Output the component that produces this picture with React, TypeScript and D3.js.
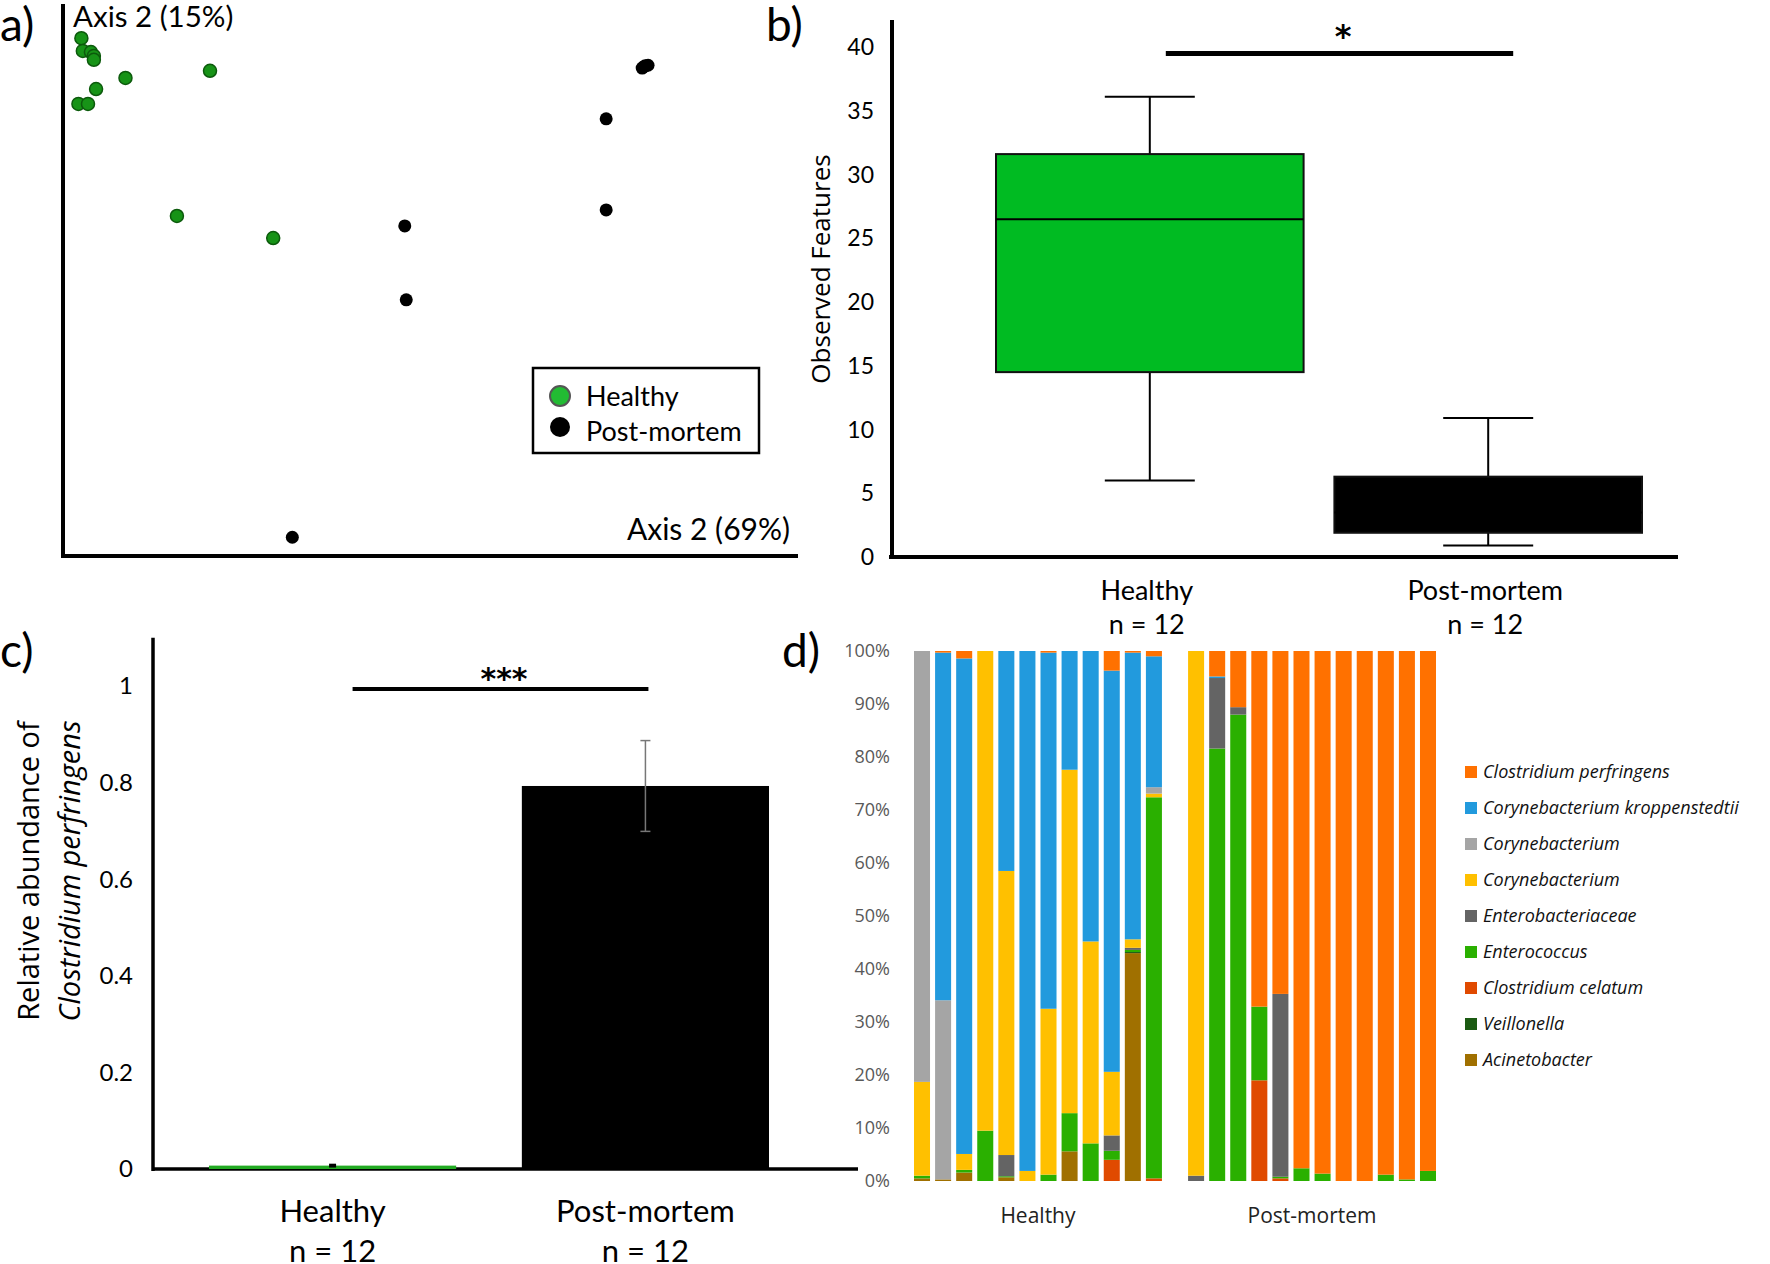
import React from 'react';
import * as d3 from 'd3';

// a) PCoA coordinates (axis units 0-100 along the drawn axes)
const healthyAxis1 = [2.5, 2.7, 3.8, 4.2, 4.2, 8.5, 20.0, 4.5, 2.1, 3.4, 15.5, 28.6];
const healthyAxis2 = [93.8, 91.5, 91.3, 90.6, 89.9, 86.6, 87.9, 84.6, 81.9, 81.9, 61.6, 57.6];
const postAxis1 = [78.8, 79.6, 79.2, 79.0, 73.9, 73.9, 46.5, 46.7, 31.2];
const postAxis2 = [88.4, 88.9, 88.8, 88.6, 79.2, 62.7, 59.8, 46.4, 3.4];

// b) observed features
const groups = ['Healthy', 'Post-mortem'];
const boxMin = [6, 0.9];
const boxQ1 = [14.5, 1.9];
const boxMedian = [26.5, 3.5];
const boxQ3 = [31.6, 6.3];
const boxMax = [36.1, 10.9];
const featureTicks = [0, 5, 10, 15, 20, 25, 30, 35, 40];

// c) relative abundance of C. perfringens
const abundanceMean = [0.007, 0.793];
const abundanceErr = [0.004, 0.094];
const abundanceTicks = [0, 0.2, 0.4, 0.6, 0.8, 1];

// d) taxa per sample (12 healthy, 12 post-mortem), bottom of stack first
const taxa = ['acin', 'veill', 'celatum', 'entc', 'entb', 'coryY', 'coryG', 'kropp', 'perf'];
const taxonNames = {
  perf: 'Clostridium perfringens',
  kropp: 'Corynebacterium kroppenstedtii',
  coryG: 'Corynebacterium',
  coryY: 'Corynebacterium',
  entb: 'Enterobacteriaceae',
  entc: 'Enterococcus',
  celatum: 'Clostridium celatum',
  veill: 'Veillonella',
  acin: 'Acinetobacter',
};
const legendOrder = ['perf', 'kropp', 'coryG', 'coryY', 'entb', 'entc', 'celatum', 'veill', 'acin'];
const taxonColors = {
  perf: '#ff7100',
  kropp: '#229add',
  coryG: '#a5a5a5',
  coryY: '#ffc000',
  entb: '#646464',
  entc: '#2ab000',
  celatum: '#e04a00',
  veill: '#1b5a12',
  acin: '#a07000',
};
const perf = [0, 0.3, 1.4, 0, 0, 0, 0.3, 0, 0, 3.7, 0.3, 1.0, 0, 4.8, 10.6, 67.1, 64.7, 97.6, 98.6, 100, 100, 98.8, 99.7, 98.1];
const kropp = [0, 65.6, 93.5, 0, 41.5, 98.1, 67.2, 22.4, 54.8, 75.7, 54.1, 24.7, 0, 0.3, 0, 0, 0, 0, 0, 0, 0, 0, 0, 0];
const coryG = [81.3, 33.8, 0, 0, 0, 0, 0, 0, 0, 0, 0, 1.2, 0, 0, 0, 0, 0, 0, 0, 0, 0, 0, 0, 0];
const coryY = [17.7, 0, 3.0, 90.5, 53.6, 1.9, 31.3, 64.8, 38.1, 12.0, 1.6, 0.7, 99.0, 0, 0, 0, 0, 0, 0, 0, 0, 0, 0, 0];
const entb = [0, 0, 0, 0, 4.0, 0, 0, 0, 0, 2.9, 0.4, 0, 1.0, 13.3, 1.4, 0, 34.5, 0, 0, 0, 0, 0, 0, 0];
const entc = [0.5, 0, 0.5, 9.5, 0.2, 0, 1.2, 7.2, 7.1, 1.7, 0.4, 71.9, 0, 81.6, 88.0, 13.9, 0.3, 2.4, 1.4, 0, 0, 1.2, 0.3, 1.9];
const celatum = [0, 0, 0, 0, 0, 0, 0, 0, 0, 4.0, 0, 0.5, 0, 0, 0, 19.0, 0.5, 0, 0, 0, 0, 0, 0, 0];
const veill = [0, 0, 0, 0, 0, 0, 0, 0, 0, 0, 0.2, 0, 0, 0, 0, 0, 0, 0, 0, 0, 0, 0, 0, 0];
const acin = [0.5, 0.3, 1.6, 0, 0.7, 0, 0, 5.6, 0, 0, 43.0, 0, 0, 0, 0, 0, 0, 0, 0, 0, 0, 0, 0, 0];
const samples = [
  'H1', 'H2', 'H3', 'H4', 'H5', 'H6', 'H7', 'H8', 'H9', 'H10', 'H11', 'H12',
  'P1', 'P2', 'P3', 'P4', 'P5', 'P6', 'P7', 'P8', 'P9', 'P10', 'P11', 'P12',
];
const percentTicks = [0, 0.1, 0.2, 0.3, 0.4, 0.5, 0.6, 0.7, 0.8, 0.9, 1];

const LATO = 'Lato, sans-serif';
const OPEN = '"Open Sans", sans-serif';
const DEJA = '"DejaVu Sans", sans-serif';

export default function App() {
  // ---- a)
  const xA = d3.scaleLinear().domain([0, 100]).range([63, 798]);
  const yA = d3.scaleLinear().domain([0, 100]).range([556, 4]);

  // ---- b)
  const xB = d3.scaleBand().domain(groups).range([996, 1642]).paddingInner(0.091);
  const yB = d3.scaleLinear().domain([0, 40]).range([557, 47]);
  const cB = (g) => xB(g) + xB.bandwidth() / 2;

  // ---- c)
  const xC = d3.scaleBand().domain(groups).range([209, 769]).paddingInner(0.21);
  const yC = d3.scaleLinear().domain([0, 1]).range([1169, 686]);
  const cC = (g) => xC(g) + xC.bandwidth() / 2;

  // ---- d)
  const slots = [...samples.slice(0, 12), 'gap', ...samples.slice(12)];
  const xD = d3.scaleBand().domain(slots).range([914, 1436]).paddingInner(0.24);
  const yD = d3.scaleLinear().domain([0, 1]).range([1181, 651]);
  const series = { perf, kropp, coryG, coryY, entb, entc, celatum, veill, acin };
  const rows = samples.map((s, i) => {
    const r = { sample: s };
    taxa.forEach((t) => (r[t] = series[t][i]));
    return r;
  });
  const stacked = d3.stack().keys(taxa).offset(d3.stackOffsetExpand)(rows);
  const groupCenter = (a, b) => (xD(a) + xD(b) + xD.bandwidth()) / 2;

  return (
    <svg width={1770} height={1264} style={{ position: 'absolute', left: 0, top: 0, background: '#fff' }}>
      {/* ================= a) ================= */}
      <text x={0} y={41} fontFamily={LATO} fontSize={46}>a)</text>
      <line x1={xA(0)} x2={xA(0)} y1={yA(100)} y2={yA(0) + 2} stroke="#000" strokeWidth={4} />
      <line x1={xA(0) - 2} x2={xA(100)} y1={yA(0)} y2={yA(0)} stroke="#000" strokeWidth={4} />
      <text x={73} y={27} fontFamily={LATO} fontSize={29.5}>Axis 2 (15%)</text>
      <text x={790} y={540} textAnchor="end" fontFamily={LATO} fontSize={30}>Axis 2 (69%)</text>
      {healthyAxis1.map((v, i) => (
        <circle key={'h' + i} cx={xA(v)} cy={yA(healthyAxis2[i])} r={6.5} fill="#179317" stroke="#0c5a0c" strokeWidth={1.5} />
      ))}
      {postAxis1.map((v, i) => (
        <circle key={'p' + i} cx={xA(v)} cy={yA(postAxis2[i])} r={6.5} fill="#000" />
      ))}
      <rect x={533} y={368} width={226} height={85} fill="#fff" stroke="#000" strokeWidth={2.5} />
      <circle cx={560} cy={396} r={10} fill="#22bb33" stroke="#555" strokeWidth={2} />
      <circle cx={560} cy={427} r={10} fill="#000" />
      <text x={586} y={406} fontFamily={LATO} fontSize={27}>Healthy</text>
      <text x={586} y={441} fontFamily={LATO} fontSize={27}>Post-mortem</text>

      {/* ================= b) ================= */}
      <text x={766} y={41} fontFamily={LATO} fontSize={46}>b)</text>
      <line x1={892} x2={892} y1={20} y2={yB(0) + 2} stroke="#000" strokeWidth={4} />
      <line x1={889} x2={1678} y1={yB(0)} y2={yB(0)} stroke="#000" strokeWidth={4} />
      {featureTicks.map((t) => (
        <text key={t} x={874} y={yB(t)} dy="0.35em" textAnchor="end" fontFamily={LATO} fontSize={23}>{t}</text>
      ))}
      <text transform="translate(830,269) rotate(-90)" textAnchor="middle" fontFamily={OPEN} fontSize={26}>Observed Features</text>
      {groups.map((g, i) => {
        const cx = cB(g);
        const fill = i === 0 ? '#00bb22' : '#000';
        return (
          <g key={g}>
            <line x1={cx} x2={cx} y1={yB(boxMax[i])} y2={yB(boxQ3[i])} stroke="#000" strokeWidth={2} />
            <line x1={cx} x2={cx} y1={yB(boxQ1[i])} y2={yB(boxMin[i])} stroke="#000" strokeWidth={2} />
            <line x1={cx - 45} x2={cx + 45} y1={yB(boxMax[i])} y2={yB(boxMax[i])} stroke="#000" strokeWidth={2} />
            <line x1={cx - 45} x2={cx + 45} y1={yB(boxMin[i])} y2={yB(boxMin[i])} stroke="#000" strokeWidth={2} />
            <rect x={xB(g)} y={yB(boxQ3[i])} width={xB.bandwidth()} height={yB(boxQ1[i]) - yB(boxQ3[i])} fill={fill} stroke="#111" strokeWidth={2} />
            <line x1={xB(g)} x2={xB(g) + xB.bandwidth()} y1={yB(boxMedian[i])} y2={yB(boxMedian[i])} stroke="#000" strokeWidth={2} />
            <text x={cx - 3} y={600} textAnchor="middle" fontFamily={LATO} fontSize={27}>{g}</text>
            <text x={cx - 3} y={634} textAnchor="middle" fontFamily={LATO} fontSize={27}>n = 12</text>
          </g>
        );
      })}
      <line x1={cB('Healthy') + 16} x2={cB('Post-mortem') + 25} y1={yB(39.5)} y2={yB(39.5)} stroke="#000" strokeWidth={5} />
      <text x={(cB('Healthy') + cB('Post-mortem')) / 2 + 24} y={47} textAnchor="middle" fontFamily={DEJA} fontWeight="bold" fontSize={32}>*</text>

      {/* ================= c) ================= */}
      <text x={0} y={667} fontFamily={LATO} fontSize={46}>c)</text>
      <line x1={153} x2={153} y1={yC(1.1)} y2={yC(0) + 2} stroke="#000" strokeWidth={3.5} />
      <line x1={152} x2={858} y1={yC(0)} y2={yC(0)} stroke="#000" strokeWidth={3.5} />
      {abundanceTicks.map((t) => (
        <text key={t} x={133} y={yC(t)} dy="0.35em" textAnchor="end" fontFamily={LATO} fontSize={24}>{t}</text>
      ))}
      <text transform="translate(39,871) rotate(-90)" textAnchor="middle" fontFamily={OPEN} fontSize={29}>Relative abundance of</text>
      <text transform="translate(80,871) rotate(-90)" textAnchor="middle" fontFamily={OPEN} fontStyle="italic" fontSize={29}>Clostridium perfringens</text>
      {groups.map((g, i) => {
        const cx = cC(g);
        const hi = yC(abundanceMean[i] + abundanceErr[i]);
        const lo = yC(abundanceMean[i] - abundanceErr[i]);
        return (
          <g key={g}>
            <rect x={xC(g)} y={yC(abundanceMean[i])} width={xC.bandwidth()} height={yC(0) - yC(abundanceMean[i])} fill={i === 0 ? '#22aa22' : '#000'} />
            <line x1={cx} x2={cx} y1={hi} y2={lo} stroke={i === 0 ? '#000' : '#777'} strokeWidth={i === 0 ? 7 : 1.5} />
            {i === 1 && (
              <g>
                <line x1={cx - 5} x2={cx + 5} y1={hi} y2={hi} stroke="#777" strokeWidth={1.5} />
                <line x1={cx - 5} x2={cx + 5} y1={lo} y2={lo} stroke="#777" strokeWidth={1.5} />
              </g>
            )}
            <text x={cx} y={1222} textAnchor="middle" fontFamily={LATO} fontSize={31}>{g}</text>
            <text x={cx} y={1262} textAnchor="middle" fontFamily={LATO} fontSize={31}>n = 12</text>
          </g>
        );
      })}
      <line x1={cC('Healthy') + 20} x2={cC('Post-mortem') + 3} y1={yC(0.994)} y2={yC(0.994)} stroke="#000" strokeWidth={4} />
      <text x={504} y={689} textAnchor="middle" fontFamily={DEJA} fontWeight="bold" fontSize={30}>***</text>

      {/* ================= d) ================= */}
      <text x={782} y={667} fontFamily={LATO} fontSize={46}>d)</text>
      {percentTicks.map((t) => (
        <text key={t} x={890} y={yD(t)} dy="0.35em" textAnchor="end" fontFamily={OPEN} fontSize={18} fill="#595959">
          {Math.round(t * 100) + '%'}
        </text>
      ))}
      {stacked.map((layer) => (
        <g key={layer.key} fill={taxonColors[layer.key]}>
          {layer.map((d, j) =>
            d[1] - d[0] > 0 ? (
              <rect key={j} x={xD(samples[j])} y={yD(d[1])} width={xD.bandwidth()} height={yD(d[0]) - yD(d[1])} />
            ) : null
          )}
        </g>
      ))}
      <text x={groupCenter('H1', 'H12')} y={1223} textAnchor="middle" fontFamily={OPEN} fontSize={21} fill="#222">Healthy</text>
      <text x={groupCenter('P1', 'P12')} y={1223} textAnchor="middle" fontFamily={OPEN} fontSize={21} fill="#222">Post-mortem</text>
      {legendOrder.map((k, i) => (
        <g key={k} transform={`translate(1465,${772 + i * 36})`}>
          <rect x={0} y={-6} width={12} height={12} fill={taxonColors[k]} />
          <text x={18} y={0} dy="0.35em" fontFamily={OPEN} fontStyle="italic" fontSize={18} fill="#111">{taxonNames[k]}</text>
        </g>
      ))}
    </svg>
  );
}
